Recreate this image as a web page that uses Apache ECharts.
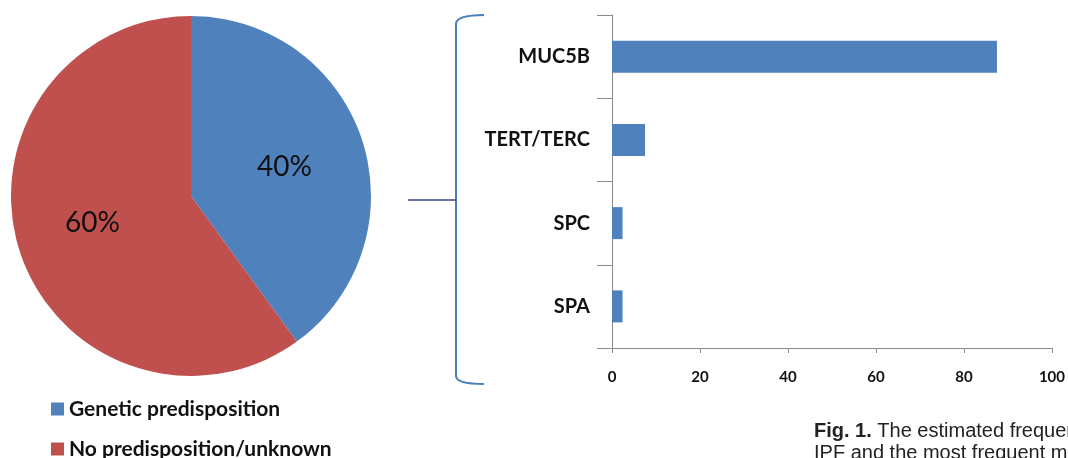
<!DOCTYPE html>
<html>
<head>
<meta charset="utf-8">
<script src="https://cdn.jsdelivr.net/npm/echarts@6/dist/echarts.min.js"></script>
<style>
  html, body { margin: 0; padding: 0; background: #fff; }
  #chart { width: 1068px; height: 458px; }
</style>
</head>
<body>
<div id="chart"></div>
<script>
// pie: share of cases with a genetic background
var pieNames = ['Genetic predisposition', 'No predisposition/unknown'];
var pieValues = [40, 60];
var pieColors = ['#4F81BD', '#C0504D'];

// bar: most frequent mutations
var genes = ['MUC5B', 'TERT/TERC', 'SPC', 'SPA'];
var geneValues = [87.5, 7.5, 2.4, 2.4];
var xTicks = [0, 20, 40, 60, 80, 100];

var chart = echarts.init(document.getElementById('chart'));

var labelFont = 'Lato, "Open Sans", sans-serif';
var braceColor = '#4a7ebb';

chart.setOption({
    animation: false,
    backgroundColor: '#fff',
    legend: {
        data: pieNames,
        orient: 'vertical',
        left: 46,
        top: 393,
        height: 80,
        itemWidth: 13,
        itemHeight: 13,
        itemGap: 18,
        icon: 'rect',
        textStyle: {
            fontFamily: labelFont,
            fontWeight: 'bold',
            fontSize: 21,
            lineHeight: 22,
            color: '#111'
        }
    },
    grid: {
        left: 612,
        right: 15,
        top: 15,
        bottom: 110
    },
    xAxis: {
        type: 'value',
        min: xTicks[0],
        max: xTicks[xTicks.length - 1],
        interval: 20,
        splitLine: { show: false },
        axisLine: { show: true, lineStyle: { color: '#8a8a8a' } },
        axisTick: { show: true, length: 5, lineStyle: { color: '#8a8a8a' } },
        axisLabel: {
            margin: 22,
            fontFamily: labelFont,
            fontWeight: 'bold',
            fontSize: 15,
            color: '#111'
        }
    },
    yAxis: {
        type: 'category',
        data: genes,
        inverse: true,
        axisLine: { show: true, lineStyle: { color: '#8a8a8a' } },
        axisTick: { show: true, length: 15, lineStyle: { color: '#8a8a8a' } },
        axisLabel: {
            margin: 22,
            fontFamily: labelFont,
            fontWeight: 'bold',
            fontSize: 20,
            color: '#111'
        }
    },
    series: [
        {
            type: 'pie',
            center: [191, 196],
            radius: 180,
            startAngle: 90,
            clockwise: true,
            label: {
                show: true,
                position: 'inside',
                formatter: '{c}%',
                fontFamily: labelFont,
                fontSize: 28,
                color: '#111'
            },
            labelLine: { show: false },
            itemStyle: { borderWidth: 0 },
            data: pieNames.map(function(n, i) {
                return {
                    name: n,
                    value: pieValues[i],
                    itemStyle: { color: pieColors[i] },
                    // nudge labels to where the original places them
                    label: { offset: i === 0 ? [5, 0] : [-10, -2] }
                };
            })
        },
        {
            type: 'bar',
            data: geneValues,
            barWidth: 32,
            itemStyle: { color: '#4F81BD' }
        }
    ],
    graphic: [
        // curly bracket linking the pie slice to the bar chart
        {
            type: 'bezierCurve',
            shape: { x1: 456, y1: 24, cpx1: 456, cpy1: 15, x2: 484, y2: 15 },
            style: { stroke: braceColor, lineWidth: 2, fill: null }
        },
        {
            type: 'line',
            shape: { x1: 456, y1: 24, x2: 456, y2: 376 },
            style: { stroke: braceColor, lineWidth: 2 }
        },
        {
            type: 'bezierCurve',
            shape: { x1: 456, y1: 376, cpx1: 456, cpy1: 384, x2: 484, y2: 384 },
            style: { stroke: braceColor, lineWidth: 2, fill: null }
        },
        {
            type: 'line',
            shape: { x1: 408, y1: 200, x2: 456, y2: 200 },
            style: { stroke: '#37478a', lineWidth: 1.5 }
        },
        {
            type: 'text',
            left: 814,
            top: 420,
            style: {
                text: '{b|Fig. 1.} The estimated frequency of genetic predisposition in\nIPF and the most frequent mutations',
                fontFamily: '"Liberation Sans", Arial, sans-serif',
                fontSize: 20,
                lineHeight: 22,
                fill: '#222',
                rich: {
                    b: {
                        fontFamily: '"Liberation Sans", Arial, sans-serif',
                        fontWeight: 'bold',
                        fontSize: 20,
                        lineHeight: 22,
                        fill: '#222'
                    }
                }
            }
        }
    ]
});
</script>
</body>
</html>
